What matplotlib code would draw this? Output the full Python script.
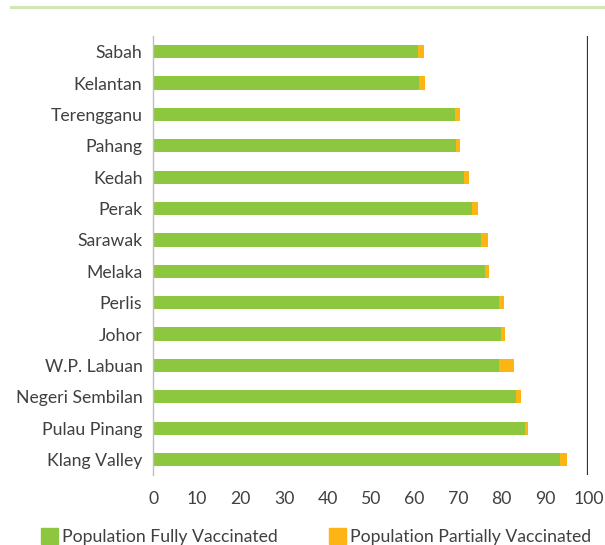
import matplotlib.pyplot as plt
from matplotlib.lines import Line2D
from matplotlib.patches import Patch

states = ['Sabah', 'Kelantan', 'Terengganu', 'Pahang', 'Kedah', 'Perak',
          'Sarawak', 'Melaka', 'Perlis', 'Johor', 'W.P. Labuan',
          'Negeri Sembilan', 'Pulau Pinang', 'Klang Valley']
fully = [60.8, 61.0, 69.3, 69.5, 71.3, 73.3, 75.2, 76.1, 79.5, 79.8, 79.5,
         83.4, 85.4, 93.4]
partial = [1.4, 1.4, 1.2, 1.0, 1.3, 1.3, 1.7, 1.0, 1.1, 1.0, 3.3, 1.0, 0.7, 1.6]

green = '#8DC63F'
orange = '#FDB515'
text_col = '#404040'

plt.rcParams['font.family'] = ['Lato', 'DejaVu Sans']

fig = plt.figure(figsize=(6.05, 5.45), dpi=100)
ax = fig.add_axes([0.2537, 0.128, 0.7190, 0.806])

pos = range(len(states))
ax.barh(pos, fully, height=0.42, color=green)
ax.barh(pos, partial, left=fully, height=0.42, color=orange)

ax.set_xlim(0, 100)
ax.set_ylim(len(states) - 0.5, -0.5)
ax.set_yticks(list(pos))
ax.set_yticklabels(states)
ax.set_xticks(range(0, 101, 10))
ax.tick_params(axis='both', length=0, labelsize=12.7, colors=text_col)
ax.tick_params(axis='x', pad=11)
ax.tick_params(axis='y', pad=8)

for side in ['top', 'bottom', 'right']:
    ax.spines[side].set_visible(False)
ax.spines['left'].set_color('#BFBFBF')
ax.spines['left'].set_linewidth(1.0)
ax.axvline(100, color='#333333', linewidth=1.6)

# thin rule along the top of the figure
fig.add_artist(Line2D([0.018, 1.0], [0.987, 0.987], color='#D3E6B5',
                      linewidth=2.2, transform=fig.transFigure))

handles = [Patch(color=green, label='Population Fully Vaccinated'),
           Patch(color=orange, label='Population Partially Vaccinated')]
fig.legend(handles=handles, loc='center', bbox_to_anchor=(0.522, 0.016),
           ncol=2, frameon=False, fontsize=12.7, labelcolor=text_col,
           handlelength=1.0, handleheight=1.0, handletextpad=0.2,
           columnspacing=2.9)

fig.savefig('out.png', dpi=100)
